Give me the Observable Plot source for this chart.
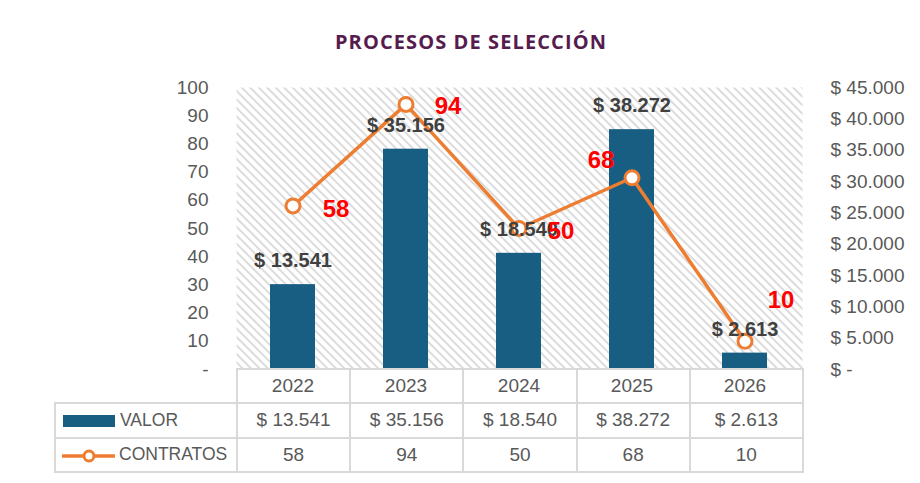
<!DOCTYPE html>
<html>
<head>
<meta charset="utf-8">
<script src="https://cdn.jsdelivr.net/npm/d3@7"></script>
<script src="https://cdn.jsdelivr.net/npm/@observablehq/plot@0.6"></script>
<style>
  html, body { margin: 0; padding: 0; background: #fff; overflow: hidden; }
  #wrap { position: relative; width: 920px; height: 483px; font-family: "Liberation Sans", Arial, sans-serif; }
  #title { position: absolute; left: 22px; width: 898px; top: 28px; text-align: center;
           font-family: "Open Sans", sans-serif; font-weight: 700; font-size: 20px; color: #561C4E; letter-spacing: 1.1px; }
  #chart { position: absolute; left: 0; top: 0; }
  #tbl { position: absolute; left: 54px; top: 368px; border-collapse: collapse; table-layout: fixed;
         font-size: 19px; color: #595959; }
  #tbl td { border: 2px solid #d9d9d9; padding: 0; text-align: center; height: 32px; white-space: nowrap; }
  #tbl td.blank { border-top: none; border-left: none; }
  #tbl td.lab { text-align: left; font-size: 17.5px; }
  .sw { display: inline-block; vertical-align: middle; margin-left: 7px; margin-right: 5px; }
</style>
</head>
<body>
<div id="wrap">
  <div id="chart"></div>
  <div id="title">PROCESOS DE SELECCIÓN</div>
  <table id="tbl"></table>
</div>
<script>
const years = ["2022", "2023", "2024", "2025", "2026"];
const valor = [13541, 35156, 18540, 38272, 2613];
const contratos = [58, 94, 50, 68, 10];
const leftTicks = [0, 10, 20, 30, 40, 50, 60, 70, 80, 90, 100];
const rightTicks = [0, 5000, 10000, 15000, 20000, 25000, 30000, 35000, 40000, 45000];
const seriesNames = ["VALOR", "CONTRATOS"];

// label offsets (style, kept apart from data)
const redOffsets = [[43, 3], [42, 2], [42, 3], [-31, -17], [36, -41]];

const data = years.map((year, i) => ({year, valor: valor[i], contratos: contratos[i], i}));
const yv = d3.scaleLinear([0, 45000], [0, 100]);
const fmtMoney = v => v === 0 ? "$ -" : "$ " + d3.format(",")(v).replace(/,/g, ".");

const ORANGE = "#ED7D31", BLUE = "#175E82";

const defs = () => {
  const d = d3.create("svg:defs");
  const p = d.append("pattern").attr("id", "hatch").attr("patternUnits", "userSpaceOnUse")
    .attr("width", 6).attr("height", 6).attr("patternTransform", "rotate(-45)");
  p.append("rect").attr("width", 6).attr("height", 6).attr("fill", "#ffffff");
  p.append("rect").attr("x", 0).attr("width", 2).attr("height", 6).attr("fill", "#dcdcdc");
  return d.node();
};

const W = 920, H = 483, ML = 236, MR = 118, MT = 87, MB = 114;

const plot = Plot.plot({
  width: W, height: H,
  marginTop: MT, marginBottom: MB, marginLeft: ML, marginRight: MR,
  style: {fontFamily: "'Liberation Sans', Arial, sans-serif", fontSize: "19px", color: "#595959", background: "transparent"},
  x: {type: "band", domain: years, paddingInner: 0.6, paddingOuter: 0.3, label: null},
  y: {domain: [0, 100], label: null},
  marks: [
    defs,
    Plot.frame({fill: "url(#hatch)", stroke: null}),
    Plot.barY(data, {x: "year", y: d => yv(d.valor), fill: BLUE}),
    Plot.line(data, {x: "year", y: "contratos", stroke: ORANGE, strokeWidth: 3.5}),
    Plot.dot(data, {x: "year", y: "contratos", r: 7, fill: "white", stroke: ORANGE, strokeWidth: 3}),
    Plot.text(data, {x: "year", y: d => yv(d.valor), text: d => fmtMoney(d.valor), dy: -24,
      fontWeight: "bold", fontSize: 20, fill: "#404040", lineAnchor: "middle"}),
    ...redOffsets.map(([dx, dy], k) =>
      Plot.text(data.filter(d => d.i === k), {x: "year", y: "contratos", text: d => String(d.contratos),
        dx, dy, fontWeight: "bold", fontSize: 24, fill: "#FF0000", lineAnchor: "middle"})),
    Plot.axisY({anchor: "left", ticks: leftTicks, tickSize: 0, tickPadding: 28, fontSize: 19,
      tickFormat: d => d === 0 ? "-" : String(d), label: null}),
    Plot.axisY({anchor: "right", ticks: rightTicks.map(v => yv(v)), tickSize: 0, tickPadding: 28, fontSize: 19,
      tickFormat: d => fmtMoney(Math.round(yv.invert(d))), label: null}),
    Plot.axisX({tickSize: 0, tickPadding: 9, fontSize: 19, label: null})
  ]
});
document.getElementById("chart").appendChild(plot);

// data table below the chart
const colW = (W - ML - MR) / years.length;
const tbl = d3.select("#tbl");
const cg = tbl.append("colgroup");
cg.append("col").style("width", (ML - 54) + "px");
years.forEach(() => cg.append("col").style("width", colW + "px"));
tbl.style("width", (W - MR - 54) + "px");
const hr = tbl.append("tr");
hr.append("td").attr("class", "blank");
years.forEach(() => hr.append("td"));

const r1 = tbl.append("tr");
r1.append("td").attr("class", "lab")
  .html(`<svg class="sw" width="52" height="12"><rect width="52" height="12" fill="${BLUE}"/></svg>${seriesNames[0]}`);
valor.forEach(v => r1.append("td").text(fmtMoney(v)));

const r2 = tbl.append("tr");
r2.append("td").attr("class", "lab")
  .html(`<svg class="sw" width="53" height="16" style="margin-left:6px;margin-right:4px"><line x1="1" x2="52" y1="8" y2="8" stroke="${ORANGE}" stroke-width="3.5" stroke-linecap="round"/><circle cx="27" cy="8" r="5" fill="white" stroke="${ORANGE}" stroke-width="3"/></svg>${seriesNames[1]}`);
contratos.forEach(v => r2.append("td").text(String(v)));
tbl.selectAll("tr").filter((d, i) => i > 0).selectAll("td").style("height", "32.5px");
</script>
</body>
</html>
